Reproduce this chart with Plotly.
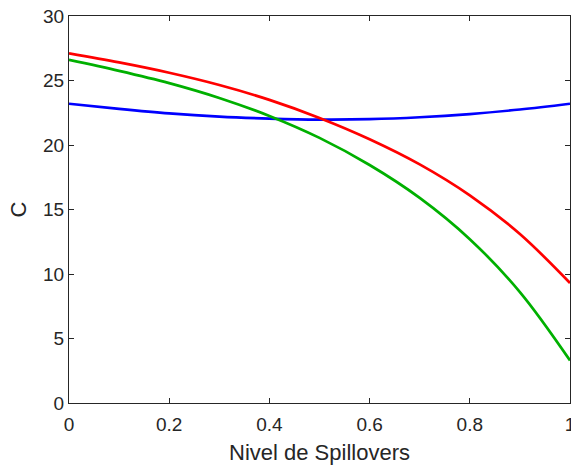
import plotly.graph_objects as go

x_vals = [0.0, 0.1, 0.2, 0.3, 0.4, 0.5, 0.6, 0.7, 0.8, 0.9, 1.0]
red_vals = [27.1, 26.4, 25.6, 24.65, 23.5, 22.1, 20.45, 18.5, 16.1, 13.1, 9.3]
green_vals = [26.6, 25.75, 24.8, 23.65, 22.25, 20.55, 18.45, 15.9, 12.7, 8.6, 3.3]
blue_vals = [23.2, 22.8, 22.45, 22.2, 22.05, 21.97, 22.0, 22.15, 22.4, 22.75, 23.2]

x_ticks = [0, 0.2, 0.4, 0.6, 0.8, 1]
x_ticklabels = ["0", "0.2", "0.4", "0.6", "0.8", "1"]
y_ticks = [0, 5, 10, 15, 20, 25, 30]

fig = go.Figure()
for vals, col in [(blue_vals, "#0000FF"), (red_vals, "#FF0000"), (green_vals, "#00B000")]:
    fig.add_trace(go.Scatter(x=x_vals, y=vals, mode="lines",
                             line=dict(color=col, width=2.7, shape="spline", smoothing=1.0),
                             showlegend=False, hoverinfo="skip"))

font_family = "Liberation Sans, Arial, Helvetica"
axis_common = dict(showline=True, linecolor="#262626", linewidth=1, mirror="allticks",
                   ticks="inside", ticklen=5, tickcolor="#262626", showgrid=False,
                   zeroline=False, ticklabeloverflow="allow", automargin=False,
                   tickfont=dict(family=font_family, size=19, color="#262626"))

fig.update_layout(
    width=571, height=466,
    margin=dict(l=69, r=1, t=16, b=63, autoexpand=False),
    plot_bgcolor="white", paper_bgcolor="white",
    xaxis=dict(range=[0, 1], tickvals=x_ticks, ticktext=x_ticklabels, ticklabelstandoff=4,
               title=dict(text="Nivel de Spillovers", standoff=10,
                          font=dict(family=font_family, size=22, color="#262626")),
               **axis_common),
    yaxis=dict(range=[0, 30], tickvals=y_ticks,
               title=dict(text="C", standoff=10,
                          font=dict(family=font_family, size=22, color="#262626")),
               **axis_common),
)

fig.write_html("out.html")
